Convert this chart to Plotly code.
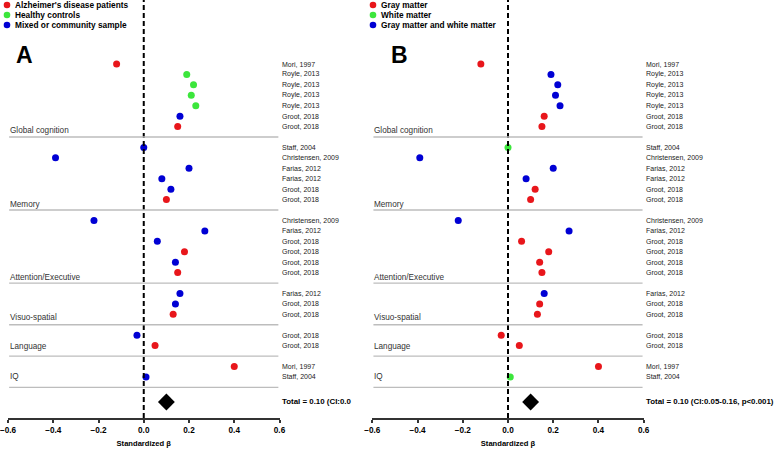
import plotly.graph_objects as go
from plotly.subplots import make_subplots

# studies listed top to bottom, grouped by cognitive domain
domains = ["Global cognition", "Memory", "Attention/Executive", "Visuo-spatial", "Language", "IQ"]
domain_sizes = [7, 6, 6, 3, 2, 2]
studies = [
    "Mori, 1997", "Royle, 2013", "Royle, 2013", "Royle, 2013", "Royle, 2013", "Groot, 2018", "Groot, 2018",
    "Staff, 2004", "Christensen, 2009", "Farias, 2012", "Farias, 2012", "Groot, 2018", "Groot, 2018",
    "Christensen, 2009", "Farias, 2012", "Groot, 2018", "Groot, 2018", "Groot, 2018", "Groot, 2018",
    "Farias, 2012", "Groot, 2018", "Groot, 2018",
    "Groot, 2018", "Groot, 2018",
    "Mori, 1997", "Staff, 2004",
]
beta = [
    -0.12, 0.19, 0.22, 0.21, 0.23, 0.16, 0.15,
    0.00, -0.39, 0.20, 0.08, 0.12, 0.10,
    -0.22, 0.27, 0.06, 0.18, 0.14, 0.15,
    0.16, 0.14, 0.13,
    -0.03, 0.05,
    0.40, 0.01,
]
# panel A: sample type, panel B: tissue measured
sample = [
    "AD", "HC", "HC", "HC", "HC", "MIX", "AD",
    "MIX", "MIX", "MIX", "MIX", "MIX", "AD",
    "MIX", "MIX", "MIX", "AD", "MIX", "AD",
    "MIX", "MIX", "AD",
    "MIX", "AD",
    "AD", "MIX",
]
tissue = [
    "GM", "GMWM", "GMWM", "GMWM", "GMWM", "GM", "GM",
    "WM", "GMWM", "GMWM", "GMWM", "GM", "GM",
    "GMWM", "GMWM", "GM", "GM", "GM", "GM",
    "GMWM", "GM", "GM",
    "GM", "GM",
    "GM", "WM",
]
sample_names = {"AD": "Alzheimer's disease patients", "HC": "Healthy controls", "MIX": "Mixed or community sample"}
tissue_names = {"GM": "Gray matter", "WM": "White matter", "GMWM": "Gray matter and white matter"}
total_beta = 0.10
total_text_a = "Total = 0.10 (CI:0.0"
total_text_b = "Total = 0.10 (CI:0.05-0.16, p<0.001)"
x_ticks = [-0.6, -0.4, -0.2, 0.0, 0.2, 0.4, 0.6]

RED, GREEN, BLUE = "#e8161b", "#3ce63c", "#0000d4"
sample_colors = {"AD": RED, "HC": GREEN, "MIX": BLUE}
tissue_colors = {"GM": RED, "WM": GREEN, "GMWM": BLUE}

FONT = "Liberation Sans, Arial, sans-serif"
W, H = 778, 449
PLOT_H = 418  # pixel height of plotting area

# row positions: one blank slot between domains
rows = []
i = 0
for g, n in enumerate(domain_sizes):
    for _ in range(n):
        rows.append(i + g)
        i += 1
sep_rows = [rows[sum(domain_sizes[:g + 1]) - 1] + 1 for g in range(len(domain_sizes))]
total_row = sep_rows[-1] + 1.4
label_offset = [0.4, 0.5, 0.5, 0.35, 0.05, 0.0]

fig = make_subplots(rows=1, cols=2)

panels = [
    (1, "x", "y", sample, sample_colors, sample_names, "A", total_text_a, 7, 24),
    (2, "x2", "y2", tissue, tissue_colors, tissue_names, "B", total_text_b, 373, 399),
]

for col, xr, yr, cats, colors, names, letter, total_text, leg_px, letter_px in panels:
    for key in colors:
        xs = [b for b, c in zip(beta, cats) if c == key]
        ys = [r for r, c in zip(rows, cats) if c == key]
        fig.add_trace(
            go.Scatter(x=xs, y=ys, mode="markers", showlegend=False,
                       marker={"color": colors[key], "size": 7, "line": {"width": 0}},
                       cliponaxis=False),
            row=1, col=col,
        )
    # pooled estimate
    fig.add_trace(
        go.Scatter(x=[total_beta], y=[total_row], mode="markers", showlegend=False,
                   marker={"color": "black", "size": 13, "symbol": "diamond"}),
        row=1, col=col,
    )
    # zero line
    fig.add_shape(type="line", xref=xr, yref="paper", x0=0, x1=0, y0=0, y1=1,
                  line={"color": "black", "width": 2, "dash": "5px,3px"})
    # domain separators
    for s in sep_rows:
        fig.add_shape(type="line", xref=xr, yref=yr, x0=-0.595, x1=0.595, y0=s, y1=s,
                      line={"color": "#bdbdbd", "width": 1.3})
    # study labels
    for r, name in zip(rows, studies):
        fig.add_annotation(x=0.6, y=r, xref=xr, yref=yr, text=name, showarrow=False,
                           xanchor="left", yanchor="middle", xshift=0.5,
                           font={"family": FONT, "size": 7, "color": "#222"})
    # domain labels
    for g, dname in enumerate(domains):
        last = rows[sum(domain_sizes[:g + 1]) - 1]
        fig.add_annotation(x=-0.6, y=last + label_offset[g], xref=xr, yref=yr, text=dname,
                           showarrow=False, xanchor="left", yanchor="middle",
                           font={"family": FONT, "size": 8.2, "color": "#333"})
    # total text
    fig.add_annotation(x=0.6, y=total_row, xref=xr, yref=yr, text=total_text, showarrow=False,
                       xanchor="left", yanchor="middle", xshift=0.5,
                       font={"family": FONT, "size": 7.9, "color": "black", "weight": "bold"})
    # panel letter
    fig.add_annotation(x=letter_px / W, y=1 - 55 / PLOT_H, xref="paper", yref="paper", text=letter,
                       showarrow=False, xanchor="center", yanchor="middle",
                       font={"family": FONT, "size": 23, "color": "black", "weight": "bold"})
    # legend
    for k, key in enumerate(colors):
        ypix = 5 + 10 * k
        fig.add_shape(type="circle", xref="paper", yref="paper",
                      xsizemode="pixel", ysizemode="pixel",
                      xanchor=leg_px / W, yanchor=1 - ypix / PLOT_H,
                      x0=-3.3, x1=3.3, y0=-3.3, y1=3.3,
                      fillcolor=colors[key], line={"width": 0})
        fig.add_annotation(x=(leg_px + 6) / W, y=1 - ypix / PLOT_H, xref="paper", yref="paper",
                           text=names[key], showarrow=False, xanchor="left", yanchor="middle",
                           font={"family": FONT, "size": 8.3, "color": "black", "weight": "bold"})

y_lo = -64 / 10.43
y_hi = (PLOT_H - 64) / 10.43
fig.update_yaxes(range=[y_hi, y_lo], visible=False, showgrid=False, zeroline=False)
fig.update_xaxes(
    range=[-0.6, 0.6], tickvals=x_ticks, tickformat=".1f",
    showline=True, linecolor="#333", linewidth=1.5,
    ticks="outside", ticklen=3, tickwidth=1.5, tickcolor="#333",
    showgrid=False, zeroline=False, automargin=False, ticklabeloverflow="allow",
    tickfont={"family": FONT, "size": 8.2, "color": "black", "weight": "bold"},
    title={"text": "Standardized β", "standoff": 7,
           "font": {"family": FONT, "size": 7.6, "color": "black", "weight": "bold"}},
)
fig.update_layout(
    width=W, height=H,
    margin={"l": 0, "r": 0, "t": 0, "b": H - PLOT_H, "autoexpand": False},
    xaxis={"domain": [8 / W, 279.5 / W]},
    xaxis2={"domain": [372.3 / W, 643.7 / W]},
    plot_bgcolor="white", paper_bgcolor="white",
    showlegend=False,
)

fig.write_html("out.html", config={"displayModeBar": False},
               post_script="document.body.style.margin='0';document.body.style.overflow='hidden';")
